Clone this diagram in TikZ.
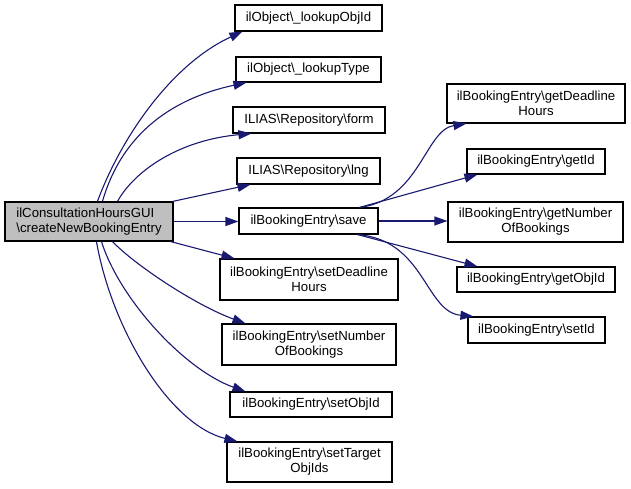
\documentclass[tikz,border=0pt]{standalone}
\usepackage{fontspec}
\setmainfont{Liberation Sans}
\usetikzlibrary{arrows.meta}
\definecolor{edgec}{HTML}{191970}
\definecolor{mainfill}{HTML}{BFBFBF}
\begin{document}
\begin{tikzpicture}[x=1pt,y=-1pt,
  box/.style={draw=black, line width=1.1pt, inner sep=0pt, align=center, fill=white,
    font=\fontsize{13.2}{15}\selectfont},
  edge/.style={draw=edgec, line width=1.1pt, -{Triangle[length=13pt,width=9pt]}, shorten >=0pt}]
\useasboundingbox (0,0) rectangle (631,489);
% main node
\node[box, fill=mainfill, align=left, minimum width=168pt, minimum height=39pt] (main) at (89,221.5)
  {ilConsultationHoursGUI\\\textbackslash createNewBookingEntry};
% middle column
\node[box, minimum width=147pt, minimum height=26pt] (n1) at (308.5,18) {ilObject\textbackslash\_lookupObjId};
\node[box, minimum width=145pt, minimum height=25pt] (n2) at (308.5,69.5) {ilObject\textbackslash\_lookupType};
\node[box, minimum width=152pt, minimum height=26pt] (n3) at (309,120) {ILIAS\textbackslash Repository\textbackslash form};
\node[box, minimum width=143pt, minimum height=26pt] (n4) at (308.5,171) {ILIAS\textbackslash Repository\textbackslash lng};
\node[box, minimum width=139pt, minimum height=26pt] (n5) at (308.5,221) {ilBookingEntry\textbackslash save};
\node[box, minimum width=178pt, minimum height=41pt] (n6) at (309,279.5) {ilBookingEntry\textbackslash setDeadline\\Hours};
\node[box, minimum width=174pt, minimum height=41pt] (n7) at (309,344.5) {ilBookingEntry\textbackslash setNumber\\OfBookings};
\node[box, minimum width=162pt, minimum height=25pt] (n8) at (311,404.5) {ilBookingEntry\textbackslash setObjId};
\node[box, minimum width=165pt, minimum height=40pt] (n9) at (309.5,462) {ilBookingEntry\textbackslash setTarget\\ObjIds};
% right column
\node[box, minimum width=178pt, minimum height=39pt] (r1) at (536,103.5) {ilBookingEntry\textbackslash getDeadline\\Hours};
\node[box, minimum width=138pt, minimum height=25pt] (r2) at (536,161.5) {ilBookingEntry\textbackslash getId};
\node[box, minimum width=175pt, minimum height=40pt] (r3) at (535.5,222) {ilBookingEntry\textbackslash getNumber\\OfBookings};
\node[box, minimum width=158pt, minimum height=25pt] (r4) at (536,279.5) {ilBookingEntry\textbackslash getObjId};
\node[box, minimum width=137pt, minimum height=26pt] (r5) at (536.5,330) {ilBookingEntry\textbackslash setId};
% edges from main
\draw[edge] ([xshift=93pt]main.north west) .. controls (120,140) and (170,65) .. ([xshift=8pt]n1.south west);
\draw[edge] ([xshift=98pt]main.north west) .. controls (120,140) and (165,100) .. ([xshift=11pt]n2.south west);
\draw[edge] ([xshift=113pt]main.north west) .. controls (135,170) and (180,140) .. ([xshift=19pt]n3.south west);
\draw[edge] ([xshift=-1pt]main.north east) -- ([xshift=14pt]n4.south west);
\draw[edge] (main.east) -- (main.east -| n5.west);
\draw[edge] ([xshift=-3pt]main.south east) -- ([xshift=15pt]n6.north west);
\draw[edge] ([xshift=108pt]main.south west) .. controls (135,265) and (195,305) .. ([xshift=24pt]n7.north west);
\draw[edge] ([xshift=97pt]main.south west) .. controls (120,300) and (185,370) .. ([xshift=16pt]n8.north west);
\draw[edge] ([xshift=92pt]main.south west) .. controls (112,330) and (170,425) .. ([xshift=11pt]n9.north west);
% edges from save
\draw[edge] ([xshift=121pt]n5.north west) .. controls (420,200) and (425,130) .. ([xshift=20pt]r1.south west);
\draw[edge] ([xshift=121pt]n5.north west) -- ([xshift=11pt]r2.south west);
\draw[edge] (n5.east) -- (n5.east -| r3.west);
\draw[edge] ([xshift=119pt]n5.south west) -- ([xshift=21pt]r4.north west);
\draw[edge] ([xshift=119pt]n5.south west) .. controls (425,240) and (425,312) .. ([xshift=6pt]r5.north west);
\end{tikzpicture}
\end{document}
